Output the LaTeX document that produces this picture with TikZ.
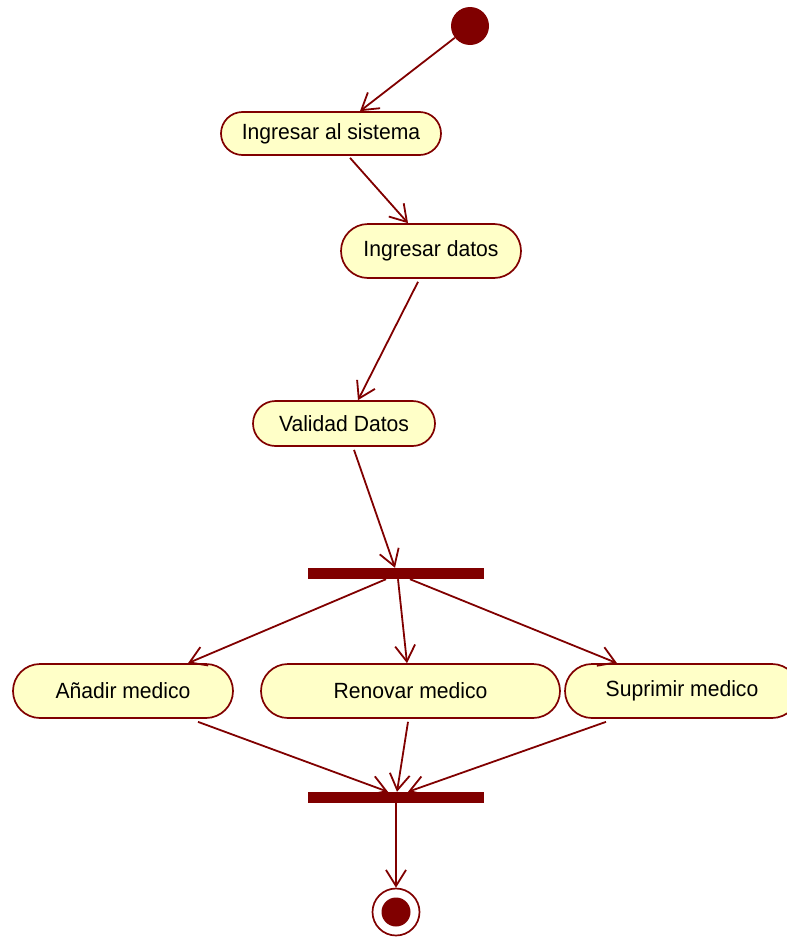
\documentclass[tikz,border=0pt]{standalone}
\usepackage{fontspec}
\setmainfont[FakeStretch=0.96]{Liberation Sans}
\usetikzlibrary{arrows.meta, shapes.misc}
\definecolor{umlred}{HTML}{800000}
\definecolor{umlfill}{HTML}{FFFFC8}
\tikzset{
  actbox/.style={rounded rectangle, draw=umlred, fill=umlfill, line width=1.7pt,
                 inner sep=0pt, font=\fontsize{22}{26}\selectfont},
  syncbar/.style={fill=umlred, minimum width=176pt, minimum height=11pt, inner sep=0pt},
  initdot/.style={circle, fill=umlred, minimum size=38pt, inner sep=0pt},
  finring/.style={circle, draw=umlred, line width=1.7pt, fill=white,
                  minimum size=47pt, inner sep=0pt},
  findot/.style={circle, fill=umlred, minimum size=29pt, inner sep=0pt},
  flow/.style={-{Straight Barb[length=16pt,width=20pt,line width=1.8pt]},
               line width=1.8pt, umlred},
}

\begin{document}
\begin{tikzpicture}[x=1pt, y=-1pt]
  \useasboundingbox (0,0) rectangle (787,937);

  %% Start
  \node[initdot] (ini) at (470,26) {};

  %% Login and data
  \node[actbox, minimum width=220pt, minimum height=43pt] (sis) at (331,133.5) {Ingresar al sistema};
  \node[actbox, minimum width=180pt, minimum height=54pt] (dat) at (431,251) {Ingresar datos};
  \node[actbox, minimum width=182pt, minimum height=45pt] (val) at (344,423.5) {Validad Datos};

  %% Fork
  \node[syncbar] (fork) at (396,573.5) {};

  %% Parallel actions
  \node[actbox, minimum width=220pt, minimum height=54pt] (add) at (123,691) {Añadir medico};
  \node[actbox, minimum width=299pt, minimum height=54pt] (ren) at (410.5,691) {Renovar medico};
  \node[actbox, minimum width=234pt, minimum height=54pt] (sup) at (682,691) {Suprimir medico};

  %% Join
  \node[syncbar] (join) at (396,797.5) {};

  %% End
  \node[finring] (fin) at (396,912) {};
  \node[findot] (findot) at (fin) {};

  %% Flows
  \draw[flow] (ini) -- ([xshift=29pt]sis.north);
  \draw[flow] ([xshift=19pt, yshift=-2pt]sis.south) -- ([xshift=-23pt]dat.north);
  \draw[flow] ([xshift=-13pt, yshift=-3pt]dat.south) -- ([xshift=14pt]val.north);
  \draw[flow] ([xshift=10pt, yshift=-3pt]val.south) -- ([xshift=-1pt]fork.north);

  \foreach \s/\n/\e in {-10/add/65, 2/ren/-3.5, 14/sup/-65}{
    \draw[flow] ([xshift=\s pt]fork.south) -- ([xshift=\e pt]\n.north);
  }
  \foreach \n/\s/\e in {add/75/-8, ren/-2.5/1, sup/-76/12}{
    \draw[flow] ([xshift=\s pt, yshift=-3pt]\n.south) -- ([xshift=\e pt]join.north);
  }

  \draw[flow] (join.south) -- (fin.north);

\end{tikzpicture}
\end{document}
